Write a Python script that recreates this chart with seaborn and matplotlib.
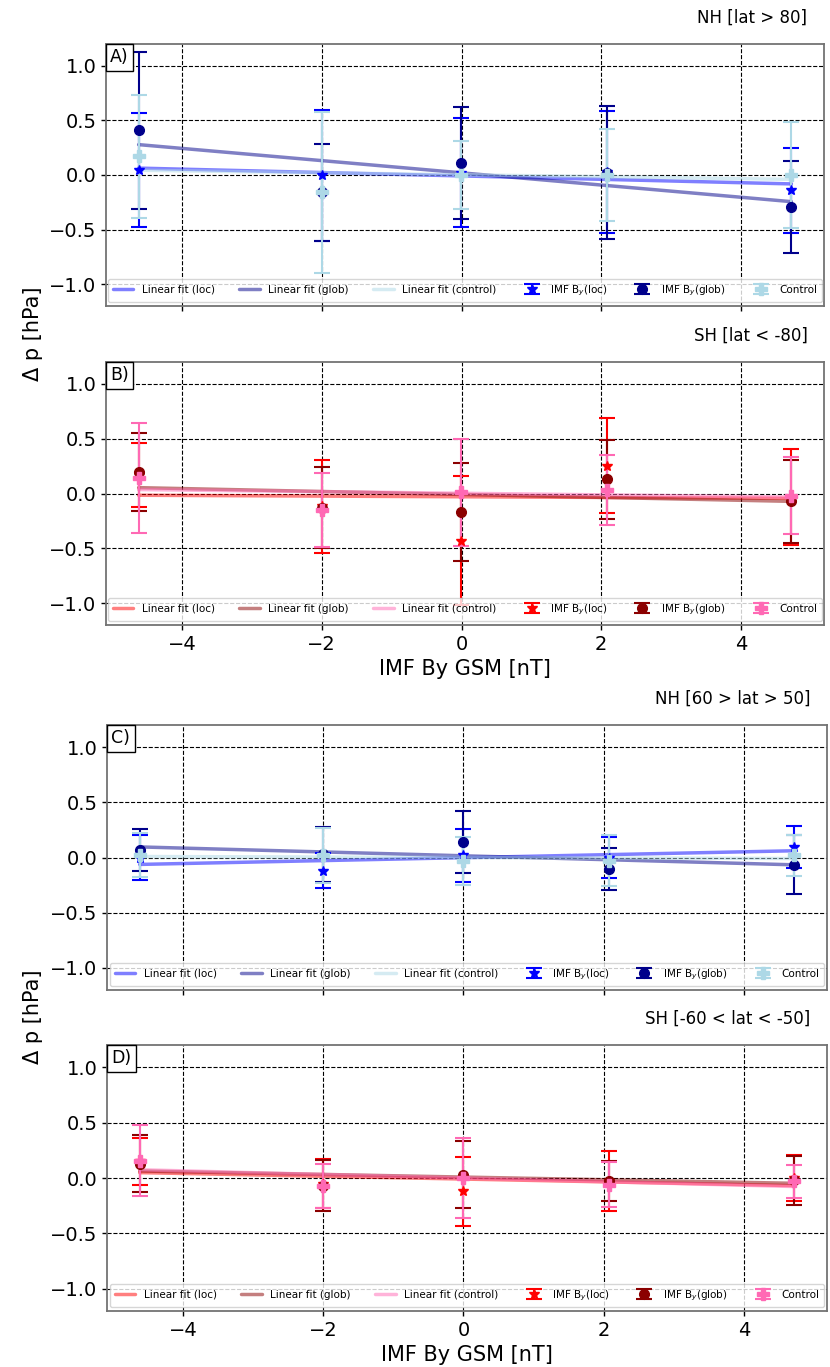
import numpy as np
import matplotlib
matplotlib.use("Agg")
import matplotlib.pyplot as plt
import seaborn as sns
from matplotlib.offsetbox import AnchoredText

sns.set_style("white")
plt.rcParams['font.family'] = ['DejaVu Sans']
plt.rcParams.update({"text.color": "black", "axes.labelcolor": "black",
                     "xtick.color": "black", "ytick.color": "black"})

# IMF By bin centres [nT]
by_bins = np.array([-4.62, -2.0, -0.01, 2.08, 4.72])

# A) NH [lat > 80]
a_loc = [0.045, 0.0, 0.02, 0.03, -0.14]
a_loc_err = [0.52, 0.60, 0.50, 0.56, 0.39]
a_glob = [0.41, -0.16, 0.11, 0.02, -0.29]
a_glob_err = [0.72, 0.44, 0.51, 0.61, 0.42]
a_ctrl = [0.17, -0.16, 0.0, 0.0, 0.0]
a_ctrl_err = [0.56, 0.74, 0.31, 0.42, 0.49]

# B) SH [lat < -80]
b_loc = [0.17, -0.115, -0.43, 0.255, -0.03]
b_loc_err = [0.29, 0.425, 0.59, 0.43, 0.44]
b_glob = [0.195, -0.13, -0.17, 0.13, -0.07]
b_glob_err = [0.355, 0.37, 0.45, 0.36, 0.38]
b_ctrl = [0.14, -0.15, 0.01, 0.03, -0.02]
b_ctrl_err = [0.50, 0.34, 0.49, 0.32, 0.35]

# C) NH [60 > lat > 50]
c_loc = [0.0, -0.12, 0.02, 0.0, 0.095]
c_loc_err = [0.20, 0.16, 0.24, 0.19, 0.19]
c_glob = [0.07, 0.03, 0.14, -0.10, -0.065]
c_glob_err = [0.19, 0.25, 0.28, 0.19, 0.27]
c_ctrl = [0.02, 0.02, -0.03, -0.03, 0.02]
c_ctrl_err = [0.20, 0.25, 0.22, 0.23, 0.185]

# D) SH [-60 < lat < -50]
d_loc = [0.15, -0.05, -0.12, -0.03, 0.0]
d_loc_err = [0.21, 0.22, 0.31, 0.27, 0.21]
d_glob = [0.13, -0.07, 0.03, -0.03, -0.02]
d_glob_err = [0.26, 0.23, 0.30, 0.18, 0.22]
d_ctrl = [0.155, -0.07, 0.0, -0.06, -0.03]
d_ctrl_err = [0.32, 0.20, 0.36, 0.20, 0.15]

panels = [
    ("A)", "NH [lat > 80]", "north", a_loc, a_loc_err, a_glob, a_glob_err, a_ctrl, a_ctrl_err),
    ("B)", "SH [lat < -80]", "south", b_loc, b_loc_err, b_glob, b_glob_err, b_ctrl, b_ctrl_err),
    ("C)", "NH [60 > lat > 50]", "north", c_loc, c_loc_err, c_glob, c_glob_err, c_ctrl, c_ctrl_err),
    ("D)", "SH [-60 < lat < -50]", "south", d_loc, d_loc_err, d_glob, d_glob_err, d_ctrl, d_ctrl_err),
]

colors = {
    "north": ("blue", "darkblue", "lightblue"),
    "south": ("red", "darkred", "hotpink"),
}

W, H = 830, 1367
# axes boxes in pixels: left, right, top, bottom
boxes = [(106, 824, 44, 306), (106, 824, 362, 625), (107, 827, 725, 990), (107, 827, 1045, 1311)]

fig = plt.figure(figsize=(W / 100, H / 100), dpi=100)

for i, (tag, title, hemi, loc, loc_err, glob, glob_err, ctrl, ctrl_err) in enumerate(panels):
    l, r, t, b = boxes[i]
    ax = fig.add_axes([l / W, 1 - b / H, (r - l) / W, (b - t) / H])
    c_loc, c_glob, c_ctrl = colors[hemi]

    # linear fits
    for yv, c, lab in [(loc, c_loc, "Linear fit (loc)"),
                       (glob, c_glob, "Linear fit (glob)"),
                       (ctrl, c_ctrl, "Linear fit (control)")]:
        sns.regplot(x=by_bins, y=np.array(yv), ax=ax, scatter=False, ci=None,
                    truncate=True, color=c, line_kws=dict(alpha=0.5, lw=2.5))
        ax.lines[-1].set_label(lab)

    # composite means with errorbars
    ax.errorbar(by_bins, loc, yerr=loc_err, fmt="*", color=c_loc, ms=7,
                capsize=6, elinewidth=1.5, capthick=1.5, label="IMF B$_y$(loc)")
    ax.errorbar(by_bins, glob, yerr=glob_err, fmt="o", color=c_glob, ms=7,
                capsize=6, elinewidth=1.5, capthick=1.5, label="IMF B$_y$(glob)")
    ax.errorbar(by_bins, ctrl, yerr=ctrl_err, fmt="P", color=c_ctrl, ms=8,
                capsize=6, elinewidth=1.5, capthick=1.5, label="Control")

    ax.set_ylim(-1.2, 1.2)
    ax.set_yticks([-1.0, -0.5, 0.0, 0.5, 1.0])
    ax.set_xticks([-4, -2, 0, 2, 4])
    ax.grid(True, color="black", linestyle="--", linewidth=0.8)
    ax.set_axisbelow(True)
    ax.tick_params(labelsize=14, length=3.5, width=1, direction="out",
                   bottom=True, left=True)
    for sp in ax.spines.values():
        sp.set_color("0.45")
        sp.set_linewidth(1.3)

    if i in (0, 2):
        ax.tick_params(labelbottom=False)
    else:
        ax.set_xlabel("IMF By GSM [nT]", fontsize=15)

    ax.legend(loc="lower center", ncol=6, fontsize=7.5, columnspacing=2.35,
              borderaxespad=0.4)

    at = AnchoredText(tag, loc="upper left", prop=dict(size=12.5),
                      frameon=True, pad=0.25, borderpad=0.0)
    at.patch.set_boxstyle("square,pad=0")
    at.patch.set_edgecolor("black")
    ax.add_artist(at)

    ax.text(0.977, 1.065, title, transform=ax.transAxes, ha="right",
            va="bottom", fontsize=12)

fig.text(0.04, 1 - 334 / H, "Δ p [hPa]", rotation=90, fontsize=15,
         ha="center", va="center")
fig.text(0.04, 1 - 1017 / H, "Δ p [hPa]", rotation=90, fontsize=15,
         ha="center", va="center")

fig.savefig("out.png", dpi=100)
